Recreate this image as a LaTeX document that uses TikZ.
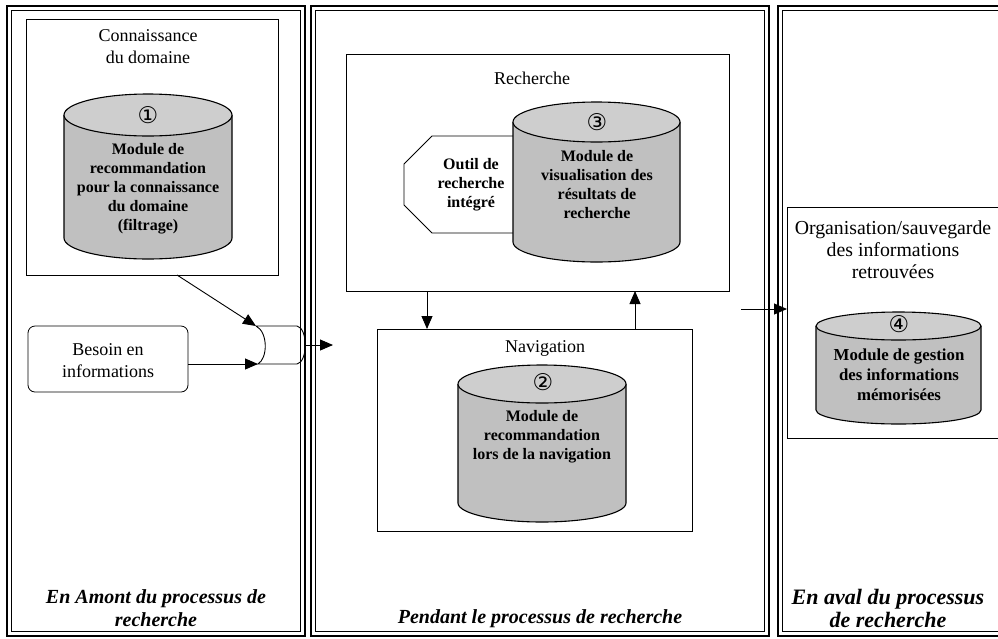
\documentclass[tikz,border=0pt]{standalone}
\usepackage{fontspec}
\setmainfont{Liberation Serif}
\newfontfamily\symfont{DejaVu Sans}
\usetikzlibrary{arrows.meta,calc}
\definecolor{cylbodyc}{RGB}{192,192,192}
\definecolor{cyltopc}{RGB}{206,206,206}
\tikzset{
  x=1pt, y=-1pt,
  panelout/.style={draw, line width=2pt},
  panelin/.style={draw, line width=0.9pt},
  box/.style={draw, line width=0.8pt, inner sep=0pt, outer sep=0pt, anchor=north west},
  rbox/.style={box, rounded corners=7pt},
  txt/.style={align=center, inner sep=0pt, font=\fontsize{18}{22}\selectfont},
  btxt/.style={align=center, inner sep=0pt, font=\bfseries\fontsize{16}{19}\selectfont},
  bitxt/.style={align=center, inner sep=0pt, font=\bfseries\itshape\fontsize{20}{22.5}\selectfont},
  rtxt/.style={align=center, inner sep=0pt, font=\fontsize{19.8}{22}\selectfont},
  rbtxt/.style={align=center, inner sep=0pt, font=\bfseries\fontsize{16.8}{20}\selectfont},
  rbitxt/.style={align=center, inner sep=0pt, font=\bfseries\itshape\fontsize{22}{23}\selectfont},
  numtxt/.style={inner sep=0pt, font=\symfont\fontsize{23}{23}\selectfont},
  cylline/.style={draw, line width=1.1pt},
  arr/.style={line width=0.9pt, -{Triangle[length=13pt,width=11pt]}},
}
% name, L, R, yt, yb, ry
\newcommand\mycyl[6]{%
  \fill[cylbodyc] (#2,#4) -- (#2,#5) arc[start angle=180,end angle=360,x radius={(#3-#2)/2*1pt},y radius=#6pt] -- (#3,#4) -- cycle;
  \draw[cylline] (#2,#4) -- (#2,#5) arc[start angle=180,end angle=360,x radius={(#3-#2)/2*1pt},y radius=#6pt] -- (#3,#4);
  \draw[cylline, fill=cyltopc] ({(#2+#3)/2},#4) ellipse[x radius={(#3-#2)/2*1pt}, y radius=#6pt];
  \coordinate (#1) at ({(#2+#3)/2},{(#4+#5)/2});
}
\begin{document}
\begin{tikzpicture}
\useasboundingbox (0,0) rectangle (998,638);
\clip (0,0) rectangle (998,638);
\fill[white] (0,0) rectangle (998,638);

% panels
\draw[panelout] (7,6) rectangle (305,636);
\draw[panelin] (11.5,10.5) rectangle (300.5,631.5);
\draw[panelout] (311,6) rectangle (769,636);
\draw[panelin] (315.5,10.5) rectangle (764.5,631.5);
\draw[panelout] (778,6) rectangle (1010,636);
\draw[panelin] (782.5,10.5) rectangle (1006,631.5);

% ---------- left panel
\node[box, minimum width=252pt, minimum height=256pt] (conn) at (26,19) {};
\node[txt] (conntitle) at (148,47) {Connaissance\\du domaine};
\mycyl{cylA}{64}{232}{115}{238}{21}
\node[numtxt] (numA) at (148,115) {①};
\node[btxt] (cylAtxt) at (148,189) {Module de\\recommandation\\pour la connaissance\\du domaine\\(filtrage)};

\node[rbox, minimum width=160pt, minimum height=66pt] (besoin) at (28,326) {};
\node[txt] (besointxt) at (108,361) {Besoin en\\informations};

% junction shape
\coordinate (jtl) at (256,326);
\coordinate (jbl) at (258,364);
\coordinate (jr) at (305.5,345);
\coordinate (jout) at (333,345);
\draw[line width=0.9pt] (jtl) -- (297,326) .. controls (308,328) and (308,362) .. (297,364)
   -- (jbl) .. controls (268,358) and (268,332) .. (jtl);

\draw[arr] ($(conn.south west)+(151,0)$) -- (jtl);
\draw[arr] ($(besoin.east)+(0,5)$) -- (jbl);
\draw[arr] (jr) -- (jout);

\node[bitxt] (amont) at (156,608) {En Amont du processus de\\recherche};

% ---------- middle panel
\node[box, minimum width=383pt, minimum height=237pt] (rech) at (346,54) {};
\node[txt] (rechtitle) at (532,78) {Recherche};
\draw[line width=0.9pt, fill=white] (513,136) -- (432,136) -- (404,164) -- (404,205) -- (432,233) -- (513,233);
\node[btxt] (outil) at (471,185) {Outil de\\recherche\\intégré};
\mycyl{cylC}{513}{680}{122}{242}{20}
\node[numtxt] (numC) at (597,122) {③};
\node[btxt] (cylCtxt) at (597,185) {Module de\\visualisation des\\résultats de\\recherche};

\node[box, minimum width=315pt, minimum height=202pt] (nav) at (377,329) {};
\node[txt] (navtitle) at (545,348) {Navigation};
\mycyl{cylB}{458}{626}{384}{503}{19}
\node[numtxt] (numB) at (543,382) {②};
\node[btxt] (cylBtxt) at (542,437) {Module de\\recommandation\\lors de la navigation};

\draw[arr] ($(rech.south west)+(81,0)$) -- ($(nav.north west)+(50,0)$);
\draw[arr] ($(nav.north west)+(258,0)$) -- ($(rech.south west)+(289,0)$);

\node[bitxt] (pendant) at (540,619) {Pendant le processus de recherche};

% ---------- right panel
\node[box, minimum width=211pt, minimum height=231pt] (org) at (787,207) {};
\node[rtxt] (orgtitle) at (893,250) {Organisation/sauvegarde\\des informations\\retrouvées};
\mycyl{cylD}{816}{981}{326}{410}{14}
\node[numtxt] (numD) at (899,324) {④};
\node[rbtxt] (cylDtxt) at (899,375) {Module de gestion\\des informations\\mémorisées};

\coordinate (orgin) at (741,309);
\draw[arr] (orgin) -- (org.west |- orgin);

\node[rbitxt] (aval) at (888,608) {En aval du processus\\de recherche};
\end{tikzpicture}
\end{document}
